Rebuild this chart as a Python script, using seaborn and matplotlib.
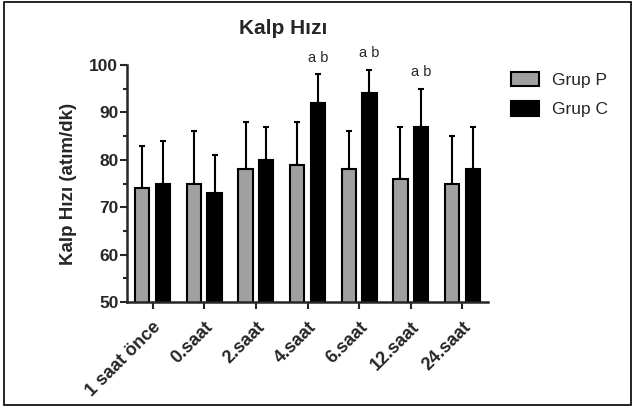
import pandas as pd
import numpy as np
import matplotlib.pyplot as plt
import seaborn as sns
from matplotlib.patches import Rectangle

# Data
times = ['1 saat önce', '0.saat', '2.saat', '4.saat', '6.saat', '12.saat', '24.saat']
grup_p = [74, 75, 78, 79, 78, 76, 75]
grup_p_sd = [9, 11, 10, 9, 8, 11, 10]
grup_c = [75, 73, 80, 92, 94, 87, 78]
grup_c_sd = [9, 8, 7, 6, 5, 8, 9]
marks = ['', '', '', 'a b', 'a b', 'a b', '']

df = pd.DataFrame({
    'time': times * 2,
    'group': ['Grup P'] * len(times) + ['Grup C'] * len(times),
    'value': grup_p + grup_c,
    'sd': grup_p_sd + grup_c_sd,
})

sns.set_style('ticks')
plt.rcParams['font.family'] = ['Liberation Sans', 'DejaVu Sans']

fig = plt.figure(figsize=(6.34, 4.08), dpi=100)
ax = fig.add_axes([126.7 / 634, 1 - 302 / 408, (488.3 - 126.7) / 634, (302 - 65) / 408])

sns.barplot(data=df, x='time', y='value', hue='group', order=times,
            hue_order=['Grup P', 'Grup C'],
            palette={'Grup P': '#A0A0A0', 'Grup C': '#000000'},
            errorbar=None, gap=0.3, edgecolor='black', linewidth=1.5, ax=ax)

# one-sided SD bars on top of each bar
bars = ax.patches[:2 * len(times)]
xs = [b.get_x() + b.get_width() / 2 for b in bars]
tops = [b.get_height() for b in bars]
sds = grup_p_sd + grup_c_sd
ax.errorbar(xs, tops, yerr=[np.zeros(len(sds)), sds], fmt='none',
            ecolor='black', elinewidth=1.5, capsize=2.5, capthick=1.5, zorder=1)
for b in bars:
    b.set_zorder(2)

# significance letters above Grup C
for i, m in enumerate(marks):
    if m:
        k = len(times) + i
        ax.text(xs[k], tops[k] + sds[k] + 2.0, m, ha='center', va='bottom',
                fontsize=10.5, clip_on=False)

ax.set_xlim(-0.5, 6.5)
ax.set_ylim(50, 100)
ax.set_yticks([50, 60, 70, 80, 90, 100])
ax.set_yticks(np.arange(55, 100, 10), minor=True)
ax.tick_params(axis='y', which='major', length=5, width=1.5, labelsize=12.5, pad=1)
ax.tick_params(axis='y', which='minor', length=3, width=1.5)
ax.tick_params(axis='x', length=5, width=1.5, labelsize=13, pad=7)
for lab in ax.get_yticklabels():
    lab.set_fontweight('bold')
ax.set_xticks(range(len(times)))
ax.set_xticklabels(times, rotation=45, ha='right', rotation_mode='anchor',
                   fontweight='bold')
ax.set_xlabel('')
ax.set_ylabel('Kalp Hızı (atım/dk)', fontsize=13.5, fontweight='bold', labelpad=9)
sns.despine(ax=ax)
for s in ['left', 'bottom']:
    ax.spines[s].set_linewidth(1.8)

handles, labels = ax.get_legend_handles_labels()
ax.legend(handles, labels, loc='upper left',
          bbox_to_anchor=(511 / 634, 1 - 72 / 408), bbox_transform=fig.transFigure,
          frameon=False, fontsize=12.5, handlelength=1.6, handleheight=0.9,
          handletextpad=0.75, labelspacing=0.75, borderpad=0, borderaxespad=0)

fig.text(283 / 634, 1 - 29 / 408, 'Kalp Hızı', ha='center', va='center',
         fontsize=15, fontweight='bold')

# thin frame around the whole picture
fig.patches.append(Rectangle((4 / 634, 3 / 408), 627 / 634, 403 / 408,
                             transform=fig.transFigure, fill=False,
                             edgecolor='black', linewidth=1.2))

fig.savefig('out.png', dpi=100)
